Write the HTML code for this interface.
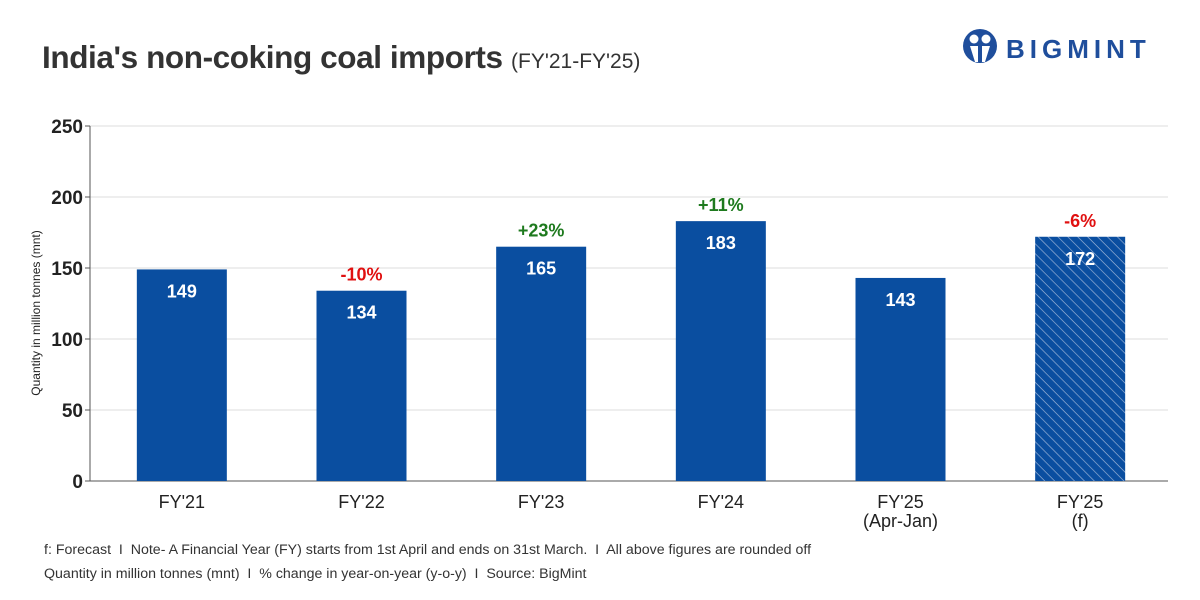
<!DOCTYPE html>
<html><head><meta charset="utf-8"><style>
body{margin:0;width:1200px;height:600px;background:#fff;font-family:"Liberation Sans",sans-serif;overflow:hidden;position:relative}
.t{position:absolute}
</style></head><body>
<div class="t" style="left:42px;top:39px;font-size:31.5px;font-weight:bold;color:#333;letter-spacing:-0.4px">India's non-coking coal imports <span style="font-size:21px;font-weight:normal;letter-spacing:0">(FY'21-FY'25)</span></div>
<div class="t" style="left:960px;top:26px;width:210px;height:44px">
<svg width="210" height="44"><circle cx="20" cy="20" r="17" fill="#1f4e9c"/><circle cx="14" cy="13" r="4.5" fill="#fff"/><circle cx="26" cy="13" r="4.5" fill="#fff"/><path d="M10 20 h8 v16 h-3 z M22 20 h8 l-5 16 h-3z" fill="#fff"/>
<text x="46" y="32" font-family="Liberation Sans" font-weight="bold" font-size="26" fill="#1f4e9c" letter-spacing="5">BIGMINT</text></svg></div>
<svg class="t" style="left:0;top:0" width="1200" height="600">
<defs><pattern id="h" patternUnits="userSpaceOnUse" width="7" height="7" patternTransform="rotate(45)"><rect width="7" height="7" fill="#0a4ea0"/><line x1="0" y1="0" x2="7" y2="0" stroke="#9fb6d8" stroke-width="1.3"/></pattern></defs>
<g id="g"></g></svg>
<div class="t" style="left:36px;top:313px;transform:translate(-50%,-50%) rotate(-90deg);font-size:12px;color:#222;white-space:nowrap">Quantity in million tonnes (mnt)</div>
<div class="t" style="left:44px;top:542px;font-size:14.2px;color:#333">f: Forecast&nbsp; I&nbsp; Note- A Financial Year (FY) starts from 1st April and ends on 31st March.&nbsp; I&nbsp; All above figures are rounded off</div>
<div class="t" style="left:44px;top:566px;font-size:14.2px;color:#333">Quantity in million tonnes (mnt)&nbsp; I&nbsp; % change in year-on-year (y-o-y)&nbsp; I&nbsp; Source: BigMint</div>
<script>
const categories=[["FY'21"],["FY'22"],["FY'23"],["FY'24"],["FY'25","(Apr-Jan)"],["FY'25","(f)"]];
const values=[149,134,165,183,143,172];
const changes=["","-10%","+23%","+11%","","-6%"];
const forecast=[false,false,false,false,false,true];
const yTicks=[0,50,100,150,200,250];
const X0=90,X1=1168,Y0=481,Y1=126,MAX=250;
const y=v=>Y0-(v/MAX)*(Y0-Y1);
const band=(X1-X0)/categories.length;
const x=i=>X0+2+band*(i+0.5);
const g=document.getElementById('g');const NS='http://www.w3.org/2000/svg';
function mk(t,a,txt){const e=document.createElementNS(NS,t);for(const k in a)e.setAttribute(k,a[k]);if(txt!=null)e.textContent=txt;g.appendChild(e);return e;}
yTicks.forEach(v=>{
 const l=mk('line',{x1:X0,x2:X1,y1:y(v),y2:y(v),stroke:v?'#ddd':'#555','stroke-width':1});
 
 
 const tk=mk('line',{x1:X0-5,x2:X0,y1:y(v),y2:y(v),stroke:'#555'});
 
 
 const t=mk('text',{x:X0-7,y:y(v)+7,'text-anchor':'end','font-size':19,'font-weight':'bold',fill:'#222'},v);
 
 
});
const ax=mk('line',{x1:X0,x2:X0,y1:Y1,y2:Y0,stroke:'#555'});


values.forEach((v,i)=>{
 const w=90,cx=x(i);
 const r=mk('rect',{x:cx-w/2,y:y(v),width:w,height:Y0-y(v),fill:forecast[i]?'url(#h)':'#0a4ea0'});
 
 
 const vl=mk('text',{x:cx,y:y(v)+28,'text-anchor':'middle','font-size':18,'font-weight':'bold',fill:'#fff'},v);
 
 
 if(changes[i]){
  const c=mk('text',{x:cx,y:y(v)-10,'text-anchor':'middle','font-size':18,'font-weight':'bold',fill:changes[i][0]=='+'?'#1e7a1e':'#e01010'},changes[i]);
  
  
 }
 categories[i].forEach((s,j)=>{
  const t=mk('text',{x:cx,y:508+j*19,'text-anchor':'middle','font-size':18,fill:'#222'},s);
  
  
 });
});
</script>
</body></html>
